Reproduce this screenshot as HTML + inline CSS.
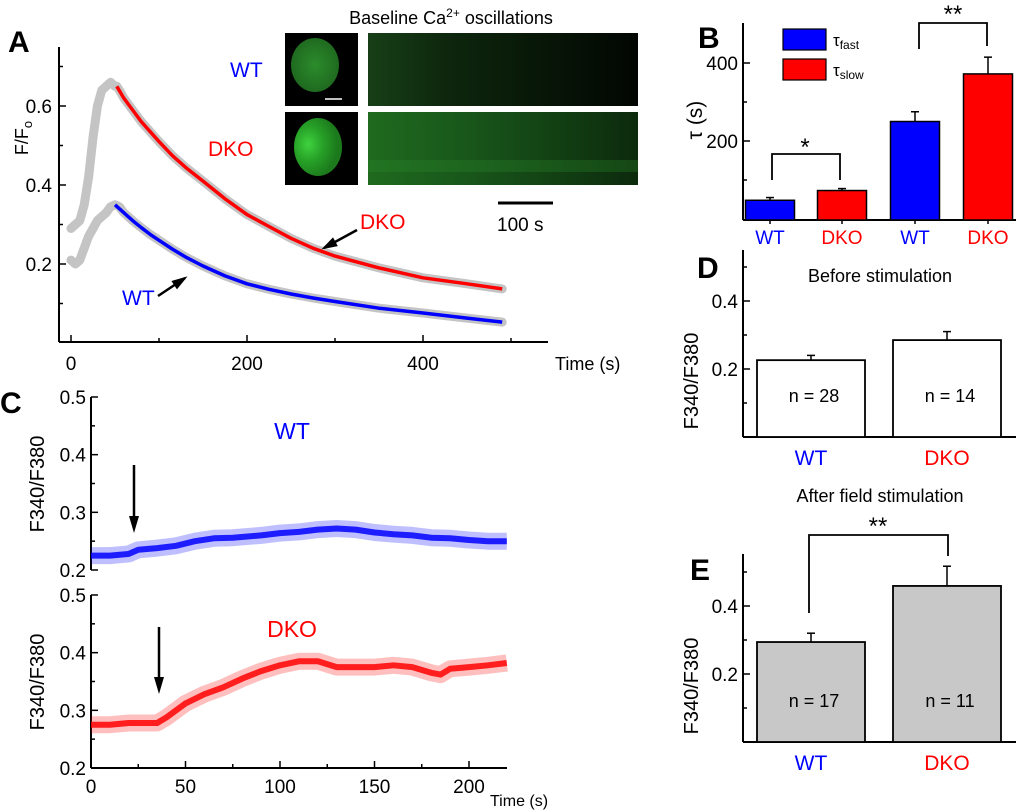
<!DOCTYPE html>
<html><head><meta charset="utf-8"><style>
body{margin:0;background:#fff}
svg{display:block;font-family:"Liberation Sans",sans-serif}
</style></head><body>
<svg id="fig" width="1020" height="810" viewBox="0 0 1020 810">
<defs>
<radialGradient id="cellWT" cx="0.5" cy="0.5" r="0.5"><stop offset="0" stop-color="#2c8c2c"/><stop offset="1" stop-color="#1f6a1f"/></radialGradient>
<radialGradient id="cellDKO" cx="0.3" cy="0.45" r="0.6"><stop offset="0" stop-color="#3fd23f"/><stop offset="0.5" stop-color="#27a127"/><stop offset="1" stop-color="#1c7a1c"/></radialGradient>
<linearGradient id="kymWT" x1="0" x2="1"><stop offset="0" stop-color="#173f17"/><stop offset="0.3" stop-color="#0d260d"/><stop offset="1" stop-color="#020602"/></linearGradient>
<linearGradient id="kymDKO" x1="0" x2="1"><stop offset="0" stop-color="#1f6a1f"/><stop offset="0.4" stop-color="#18551a"/><stop offset="1" stop-color="#0c2a0c"/></linearGradient>
</defs>
<g id="root"></g>
</svg>
<script>
// ---------- Panel A data ----------
const aDkoRawT = [0,5,10,15,20,25,30,35,40,45,50,55];
const aDkoRawV = [0.29,0.30,0.31,0.35,0.42,0.52,0.60,0.64,0.65,0.66,0.65,0.64];
const aWtRawT = [0,5,10,15,20,25,30,35,40,45,50,55];
const aWtRawV = [0.21,0.20,0.21,0.24,0.27,0.29,0.31,0.32,0.33,0.345,0.35,0.345];
const aDkoFitT = [52,60,70,80,90,100,115,130,150,175,200,225,250,275,300,350,400,450,490];
const aDkoFitV = [0.65,0.62,0.59,0.56,0.535,0.51,0.475,0.445,0.41,0.365,0.325,0.295,0.265,0.24,0.22,0.19,0.165,0.15,0.137];
const aWtFitT = [50,60,70,80,90,100,115,130,150,175,200,225,250,275,300,350,400,450,490];
const aWtFitV = [0.35,0.33,0.31,0.292,0.275,0.26,0.238,0.218,0.195,0.17,0.15,0.136,0.124,0.114,0.105,0.088,0.076,0.063,0.053];
const aXTicks = [0,200,400];
const aYTicks = [0.2,0.4,0.6];
// ---------- Panel B data ----------
const bCats = ["WT","DKO","WT","DKO"];
const bVals = [48,73,250,372];
const bErrs = [7,5,25,43];
const bYTicks = [200,400];
// ---------- Panel C data ----------
const cWtT = [0,10,20,25,35,45,55,65,75,90,100,110,120,130,140,150,160,170,180,190,200,210,220];
const cWtV = [0.225,0.225,0.228,0.235,0.238,0.242,0.25,0.255,0.256,0.26,0.264,0.266,0.27,0.272,0.27,0.265,0.262,0.26,0.256,0.255,0.252,0.25,0.25];
const cDkoT = [0,10,20,30,35,40,45,50,60,70,80,90,100,110,120,130,140,150,160,170,180,185,190,200,210,220];
const cDkoV = [0.275,0.275,0.278,0.278,0.278,0.288,0.3,0.312,0.328,0.34,0.355,0.368,0.378,0.385,0.385,0.375,0.375,0.375,0.378,0.375,0.365,0.362,0.372,0.375,0.378,0.382];
const cXTicks = [0,50,100,150,200];
const cYTicks = [0.2,0.3,0.4,0.5];
// ---------- Panel D / E data ----------
const dCats = ["WT","DKO"];
const dVals = [0.226,0.285];
const dErrs = [0.014,0.025];
const dN = ["n = 28","n = 14"];
const eVals = [0.294,0.459];
const eErrs = [0.026,0.058];
const eN = ["n = 17","n = 11"];
const deYTicks = [0.2,0.4];

const NS="http://www.w3.org/2000/svg";
const root=document.getElementById('root');
function el(tag,attrs,parent,text){
  const e=document.createElementNS(NS,tag);
  for(const k in attrs) e.setAttribute(k,attrs[k]);
  if(text!==undefined) e.textContent=text;
  (parent||root).appendChild(e);
  return e;
}
function txt(x,y,s,size,fill,anchor,parent,extra){
  const a={x:x,y:y,'font-size':size,fill:fill||'#000','text-anchor':anchor||'middle'};
  if(extra) for(const k in extra) a[k]=extra[k];
  return el('text',a,parent,s);
}
function poly(xs,ys,sx,sy){return xs.map((t,i)=>sx(t).toFixed(1)+','+sy(ys[i]).toFixed(1)).join(' ');}
function arrow(x1,y1,x2,y2,parent){
  el('line',{x1:x1,y1:y1,x2:x2,y2:y2,stroke:'#000','stroke-width':2.5},parent);
  const ang=Math.atan2(y2-y1,x2-x1),L=13,W=5;
  const p=[[x2+3*Math.cos(ang),y2+3*Math.sin(ang)],[x2-L*Math.cos(ang)+W*Math.sin(ang),y2-L*Math.sin(ang)-W*Math.cos(ang)],[x2-L*Math.cos(ang)-W*Math.sin(ang),y2-L*Math.sin(ang)+W*Math.cos(ang)]];
  el('polygon',{points:p.map(q=>q.join(',')).join(' '),fill:'#000'},parent);
}
function label(x,y,s){const t=txt(x,y,s,30,'#000','start',null,{'font-weight':'bold'});}
const TF=19;

// ================= Panel A =================
const gA=el('g',{});


const axA=(t)=>71+t*0.88;
const ayA=(v)=>264-(v-0.2)*395;
el('line',{x1:59,y1:47,x2:59,y2:342,stroke:'#000','stroke-width':2},gA);
el('line',{x1:59,y1:342,x2:548,y2:342,stroke:'#000','stroke-width':2},gA);
[0.1,0.3,0.5,0.7].forEach(v=>el('line',{x1:59,x2:63,y1:ayA(v),y2:ayA(v),stroke:'#000','stroke-width':1.5},gA));
aYTicks.forEach(v=>{el('line',{x1:59,x2:66,y1:ayA(v),y2:ayA(v),stroke:'#000','stroke-width':1.5},gA);const t=txt(52,ayA(v)+7,v.toFixed(1),TF,'#000','end',gA);});
[100,300,500].forEach(t=>el('line',{x1:axA(t),x2:axA(t),y1:342,y2:338,stroke:'#000','stroke-width':1.5},gA));
aXTicks.forEach(t=>{el('line',{x1:axA(t),x2:axA(t),y1:342,y2:335,stroke:'#000','stroke-width':1.5},gA);const s=txt(axA(t),370,String(t),TF,'#000','middle',gA);});
const aT=txt(555,370,'Time (s)',18,'#000','start',gA);
const aY=el('text',{transform:'translate(28,138) rotate(-90)','font-size':18,'text-anchor':'middle'},gA);

aY.innerHTML='F/F<tspan font-size="13" dy="4">o</tspan>';
[[aDkoRawT.concat(aDkoFitT),aDkoRawV.concat(aDkoFitV),'a-dko-raw-trace'],[aWtRawT.concat(aWtFitT),aWtRawV.concat(aWtFitV),'a-wt-raw-trace']].forEach(d=>{
  const idx=d[0].map((_,i)=>i).sort((a,b)=>d[0][a]-d[0][b]);
  const xs=idx.map(i=>d[0][i]),ys=idx.map(i=>d[1][i]);
  const p=el('polyline',{points:poly(xs,ys,axA,ayA),fill:'none',stroke:'#c4c4c4','stroke-width':9,'stroke-linejoin':'round','stroke-linecap':'round'},gA);
  
});
const fd=el('polyline',{points:poly(aDkoFitT,aDkoFitV,axA,ayA),fill:'none',stroke:'#ff0000','stroke-width':3.5,'stroke-linejoin':'round'},gA);

const fw=el('polyline',{points:poly(aWtFitT,aWtFitV,axA,ayA),fill:'none',stroke:'#0000ff','stroke-width':3.5,'stroke-linejoin':'round'},gA);

let t1=txt(122,305,'WT',21,'#0000ff','start',gA);
arrow(158,296,185,278,gA);
let t2=txt(360,229,'DKO',21,'#ff0000','start',gA);
arrow(357,230,324,248,gA);
const ttl=el('text',{x:451,y:24,'font-size':18,'text-anchor':'middle'},gA);

ttl.innerHTML='Baseline Ca<tspan font-size="12" dy="-7">2+</tspan><tspan dy="7"> oscillations</tspan>';
let w1=txt(230,77,'WT',21,'#0000ff','start',gA);
let w2=txt(208,156,'DKO',21,'#ff0000','start',gA);
let im=el('rect',{x:285,y:33,width:73,height:73,fill:'#000'},gA);
el('ellipse',{cx:315,cy:65,rx:24,ry:27,fill:'url(#cellWT)'},gA);
el('line',{x1:325,x2:342,y1:99,y2:99,stroke:'#fff','stroke-width':1.5},gA);
im=el('rect',{x:285,y:112,width:73,height:73,fill:'#000'},gA);
el('ellipse',{cx:318,cy:147,rx:24,ry:29,fill:'url(#cellDKO)'},gA);
im=el('rect',{x:368,y:33,width:270,height:73,fill:'url(#kymWT)'},gA);
im=el('rect',{x:368,y:112,width:270,height:73,fill:'url(#kymDKO)'},gA);
el('rect',{x:368,y:160,width:270,height:12,fill:'#2a8a2a',opacity:0.3},gA);
el('line',{x1:498,x2:553,y1:203,y2:203,stroke:'#000','stroke-width':3},gA);
let sb=txt(497,231,'100 s',19,'#000','start',gA);
label(8,52,'A');

// ================= Panel B =================
const gB=el('g',{});


const ayB=(v)=>219-v*0.39;
const bx=[770,842,915,988];
el('line',{x1:743,y1:23,x2:743,y2:220,stroke:'#000','stroke-width':2},gB);
el('line',{x1:743,y1:220,x2:1016,y2:220,stroke:'#000','stroke-width':2},gB);
[100,300].forEach(v=>el('line',{x1:743,x2:747,y1:ayB(v),y2:ayB(v),stroke:'#000','stroke-width':1.5},gB));
bYTicks.forEach(v=>{el('line',{x1:743,x2:750,y1:ayB(v),y2:ayB(v),stroke:'#000','stroke-width':1.5},gB);const t=txt(738,ayB(v)+7,String(v),TF,'#000','end',gB);});
const bY=el('text',{transform:'translate(702,120) rotate(-90)','font-size':21,'text-anchor':'middle'},gB,'τ (s)');

bCats.forEach((c,i)=>{
  const col=(i%2===0)?'#0000ff':'#ff0000';
  el('line',{x1:bx[i],x2:bx[i],y1:ayB(bVals[i]),y2:ayB(bVals[i]+bErrs[i]),stroke:'#000','stroke-width':1.5},gB);
  el('line',{x1:bx[i]-4,x2:bx[i]+4,y1:ayB(bVals[i]+bErrs[i]),y2:ayB(bVals[i]+bErrs[i]),stroke:'#000','stroke-width':1.5},gB);
  const r=el('rect',{x:bx[i]-24.5,y:ayB(bVals[i]),width:49,height:220-ayB(bVals[i]),fill:col,stroke:'#000','stroke-width':1.5},gB);
  
  el('line',{x1:bx[i],x2:bx[i],y1:220,y2:224,stroke:'#000','stroke-width':1.5},gB);
  const t=txt(bx[i],244,c,19,col,'middle',gB);
});
el('polyline',{points:'772,180 772,154 840,154 840,180',fill:'none',stroke:'#000','stroke-width':1.8},gB);
let s1=txt(805,155,'*',24,'#000','middle',gB);
el('polyline',{points:'919,49 919,23 987,23 987,46',fill:'none',stroke:'#000','stroke-width':1.8},gB);
let s2=txt(953,22,'**',24,'#000','middle',gB);
let lg=el('rect',{x:783,y:29,width:43,height:21,fill:'#0000ff',stroke:'#000','stroke-width':1.2},gB);
lg=el('rect',{x:783,y:59,width:43,height:21,fill:'#ff0000',stroke:'#000','stroke-width':1.2},gB);
let l1=el('text',{x:833,y:46,'font-size':17},gB);l1.innerHTML='τ<tspan font-size="12" dy="3">fast</tspan>';
let l2=el('text',{x:833,y:76,'font-size':17},gB);l2.innerHTML='τ<tspan font-size="12" dy="3">slow</tspan>';
label(698,48,'B');

// ================= Panel C =================
const gC=el('g',{});


const axC=(t)=>91+t*1.89;
function cPanel(top,tv,vv,col,name,title){
  const ay=(v)=>top+173-(v-0.2)*576.7;
  el('line',{x1:91,y1:top,x2:91,y2:top+173,stroke:'#000','stroke-width':2},gC);
  [0.25,0.35,0.45].forEach(v=>el('line',{x1:91,x2:95,y1:ay(v),y2:ay(v),stroke:'#000','stroke-width':1.5},gC));
  cYTicks.forEach(v=>{el('line',{x1:91,x2:98,y1:ay(v),y2:ay(v),stroke:'#000','stroke-width':1.5},gC);const t=txt(86,ay(v)+7,v.toFixed(1),TF,'#000','end',gC);});
  const yt=el('text',{transform:'translate(44,'+(top+87)+') rotate(-90)','font-size':20,'text-anchor':'middle'},gC,'F340/F380');
  
  const band=el('polyline',{points:poly(tv,vv,axC,ay),fill:'none',stroke:col,'stroke-width':17,opacity:0.25,'stroke-linejoin':'round'},gC);
  
  const ln=el('polyline',{points:poly(tv,vv,axC,ay),fill:'none',stroke:col,'stroke-width':6,opacity:0.85,'stroke-linejoin':'round'},gC);
  
  const tt=txt(292,top+42,title,23,col,'middle',gC);
}
cPanel(397,cWtT,cWtV,'#0000ff','wt','WT');
cPanel(595,cDkoT,cDkoV,'#ff0000','dko','DKO');
el('line',{x1:91,y1:768,x2:507,y2:768,stroke:'#000','stroke-width':2},gC);
[25,75,125,175].forEach(t=>el('line',{x1:axC(t),x2:axC(t),y1:768,y2:764,stroke:'#000','stroke-width':1.5},gC));
cXTicks.forEach(t=>{el('line',{x1:axC(t),x2:axC(t),y1:768,y2:761,stroke:'#000','stroke-width':1.5},gC);const s=txt(axC(t),793,String(t),TF,'#000','middle',gC);});
let ct=txt(490,806,'Time (s)',16,'#000','start',gC);
el('line',{x1:134,y1:465,x2:134,y2:518,stroke:'#000','stroke-width':2.5},gC);
el('polygon',{points:'129,516 139,516 134,533',fill:'#000'},gC);
el('line',{x1:159,y1:627,x2:159,y2:679,stroke:'#000','stroke-width':2.5},gC);
el('polygon',{points:'154,677 164,677 159,694',fill:'#000'},gC);
label(0,413,'C');

// ================= Panel D / E =================
function barPanel(gname,top,zeroY,vals,errs,ns,fill,title,titleY){
  const g=el('g',{});
  
  
  const ay=(v)=>zeroY-v*340;
  const cx=[811,947];
  el('line',{x1:743,y1:top,x2:743,y2:zeroY,stroke:'#000','stroke-width':2},g);
  el('line',{x1:743,y1:zeroY,x2:1016,y2:zeroY,stroke:'#000','stroke-width':2},g);
  [0.1,0.3,0.5].forEach(v=>{if(ay(v)>top)el('line',{x1:743,x2:747,y1:ay(v),y2:ay(v),stroke:'#000','stroke-width':1.5},g);});
  deYTicks.forEach(v=>{el('line',{x1:743,x2:750,y1:ay(v),y2:ay(v),stroke:'#000','stroke-width':1.5},g);const t=txt(738,ay(v)+7,v.toFixed(1),TF,'#000','end',g);});
  const yt=el('text',{transform:'translate(698,'+(ay(0.2)+12)+') rotate(-90)','font-size':20,'text-anchor':'middle'},g,'F340/F380');
  
  dCats.forEach((c,i)=>{
    el('line',{x1:cx[i],x2:cx[i],y1:ay(vals[i]),y2:ay(vals[i]+errs[i]),stroke:'#000','stroke-width':1.5},g);
    el('line',{x1:cx[i]-4,x2:cx[i]+4,y1:ay(vals[i]+errs[i]),y2:ay(vals[i]+errs[i]),stroke:'#000','stroke-width':1.5},g);
    const r=el('rect',{x:cx[i]-54,y:ay(vals[i]),width:108,height:zeroY-ay(vals[i]),fill:fill,stroke:'#000','stroke-width':1.8},g);
    
    const n=txt(cx[i]+3,zeroY-35,ns[i],18,'#000','middle',g);
    const t=txt(cx[i],zeroY+28,c,21,i===0?'#0000ff':'#ff0000','middle',g);
  });
  const tt=txt(880,titleY,title,18,'#000','middle',g);
  return g;
}
barPanel('panel-d',250,437,dVals,dErrs,dN,'#ffffff','Before stimulation',282);
const gE=barPanel('panel-e',554,742,eVals,eErrs,eN,'#c8c8c8','After field stimulation',502);
el('polyline',{points:'809,613 809,535 948,535 948,556',fill:'none',stroke:'#000','stroke-width':1.8},gE);
let s3=txt(878,534,'**',24,'#000','middle',gE);
label(697,278,'D');
label(690,580,'E');
</script>
</body></html>
